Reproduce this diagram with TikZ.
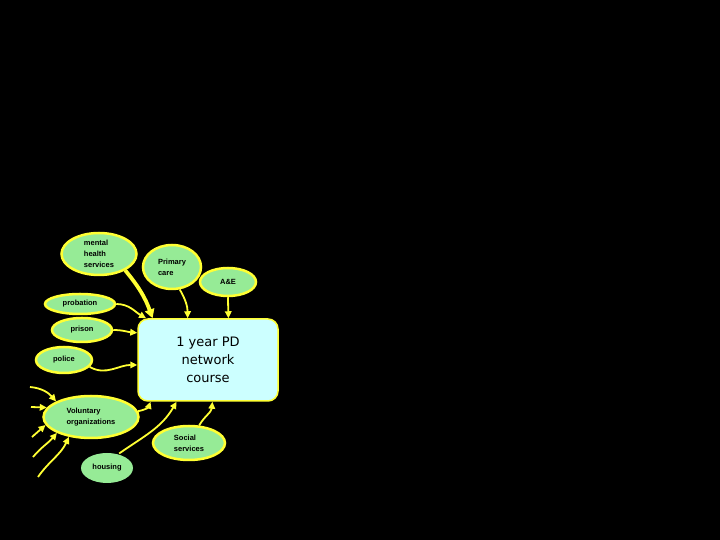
\documentclass[tikz,border=0pt]{standalone}
\usepackage{fontspec}
\setmainfont{Liberation Sans}
\newfontfamily\boxfont{DejaVu Sans}
\usetikzlibrary{shapes.geometric,arrows.meta}
\definecolor{ellfill}{RGB}{150,235,150}
\definecolor{ylw}{RGB}{255,255,51}
\definecolor{boxfill}{RGB}{204,255,255}
\begin{document}
\begin{tikzpicture}[x=1pt,y=1pt,
  org/.style={ellipse,draw=ylw,line width=2.5pt,fill=ellfill,inner sep=0pt,
    font=\bfseries\fontsize{7.5}{11}\selectfont,align=left},
  link/.style={draw=ylw,line width=1.8pt,-{Triangle[length=7pt,width=6.5pt]}},
  biglink/.style={draw=ylw,line width=3.8pt,-{Triangle[length=9pt,width=9.5pt]}},
]
\fill[black] (0,0) rectangle (720,540);
\useasboundingbox (0,0) rectangle (720,540);

\node[draw=ylw,line width=1.5pt,fill=boxfill,rounded corners=10pt,
  minimum width=140pt,minimum height=82pt,align=center,
  font=\boxfont\fontsize{13}{18}\selectfont] (pd) at (208,180) {1 year PD\\network\\course};

\node[org,minimum width=75pt,minimum height=42pt] (mh) at (99,286) {mental\\health\\services};
\node[org,minimum width=58pt,minimum height=44pt] (pc) at (172,273) {Primary\\care};
\node[org,minimum width=56pt,minimum height=28pt,align=center] (ae) at (228,258) {A\&E};
\node[org,minimum width=70pt,minimum height=20pt] (prob) at (80,236) {probation};
\node[org,minimum width=60pt,minimum height=24pt] (pris) at (82,210) {prison};
\node[org,minimum width=56pt,minimum height=26pt] (pol) at (64,180) {police};
\node[org,minimum width=95pt,minimum height=42pt] (vol) at (91,123) {Voluntary\\organizations};
\node[org,minimum width=72pt,minimum height=34pt] (soc) at (189,97) {Social\\services};
\node[org,draw=none,minimum width=52pt,minimum height=30pt] (hous) at (107,72) {housing};

\coordinate (s1) at (30,153);
\coordinate (s2) at (31,133);
\coordinate (s3) at (32,103);
\coordinate (s4) at (33,83);
\coordinate (s5) at (38,63);

\draw[biglink] (mh.-32) to[bend left=10] (pd.143);
\draw[link] (pc.289) to[bend left=15] (pd.116);
\draw[link] (ae.270) -- (pd.64);
\draw[link] (prob.0) to[out=0,in=150] (pd.146);
\draw[link] (pris.0) to[out=0,in=175] (pd.159);
\draw[link] (pol.-15) to[out=-30,in=180] (pd.184);
\draw[link] (vol.7) to[out=10,in=-110] (pd.216);
\draw[link] (hous.50) to[out=35,in=-120] (pd.233);
\draw[link] (soc.60) to[out=60,in=-95] (pd.276);

\draw[link] (s1) to[out=-5,in=131] (vol.156);
\draw[link] (s2) -- (vol.168);
\draw[link] (s3) -- (vol.190);
\draw[link] (s4) to[out=50,in=-130] (vol.205);
\draw[link] (s5) to[out=55,in=-115] (vol.222);
\end{tikzpicture}
\end{document}
